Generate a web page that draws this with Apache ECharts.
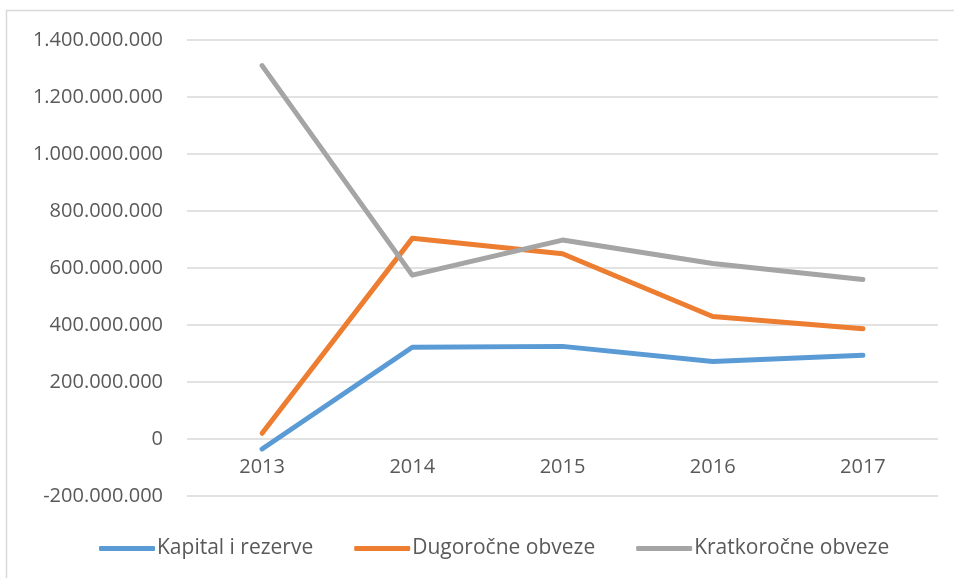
<!DOCTYPE html>
<html>
<head>
<meta charset="utf-8">
<title>Kapital i obveze 2013-2017</title>
<script src="https://cdn.jsdelivr.net/npm/echarts@6/dist/echarts.min.js"></script>
<style>
  html, body { margin: 0; padding: 0; background: #fff; }
  #box { width: 954px; height: 578px; }
</style>
</head>
<body>
<div id="box"></div>
<script>
// godine (kategorije)
var years = ['2013', '2014', '2015', '2016', '2017'];

// vrijednosti procitane sa slike
var kapital = [-35000000, 322000000, 325000000, 272000000, 294000000];
var dugorocne = [20000000, 704000000, 650000000, 430000000, 387000000];
var kratkorocne = [1310000000, 575000000, 698000000, 616000000, 560000000];

var seriesNames = ['Kapital i rezerve', 'Dugoročne obveze', 'Kratkoročne obveze'];
var colors = ['#5B9BD5', '#ED7D31', '#A5A5A5'];

function fmt(v) {
  var s = Math.abs(v).toString().replace(/\B(?=(\d{3})+(?!\d))/g, '.');
  return (v < 0 ? '-' : '') + s;
}

function makeLine(name, data, color) {
  return {
    name: name,
    type: 'line',
    data: data,
    symbol: 'none',
    lineStyle: { color: color, width: 5, cap: 'round', join: 'round' },
    itemStyle: { color: color }
  };
}

var myChart = echarts.init(document.getElementById('box'));
var option = {
  animation: false,
  color: colors,
  textStyle: { fontFamily: 'Open Sans', color: '#595959' },
  graphic: [
    { type: 'line', shape: { x1: 6.5, y1: 10, x2: 6.5, y2: 578 }, style: { stroke: '#D9D9D9', lineWidth: 1.5 } },
    { type: 'line', shape: { x1: 6, y1: 10.5, x2: 954, y2: 10.5 }, style: { stroke: '#D9D9D9', lineWidth: 1.5 } }
  ],
  grid: { left: 187, right: 16, top: 40, bottom: 82, containLabel: false },
  legend: {
    bottom: 14,
    left: 94,
    itemWidth: 56,
    itemHeight: 5,
    itemGap: 41,
    icon: 'roundRect',
    textStyle: { fontFamily: 'Open Sans', fontSize: 21, color: '#595959', padding: [0, 0, 0, -3] },
    data: seriesNames
  },
  xAxis: {
    type: 'category',
    data: years,
    boundaryGap: true,
    offset: -57,
    axisLine: { show: false, onZero: false },
    axisTick: { show: false },
    axisLabel: { fontSize: 20, color: '#595959', margin: 18 }
  },
  yAxis: {
    type: 'value',
    min: -200000000,
    max: 1400000000,
    interval: 200000000,
    axisLine: { show: false },
    axisTick: { show: false },
    splitLine: { lineStyle: { color: '#D9D9D9', width: 1.5 } },
    axisLabel: { fontSize: 20, color: '#595959', margin: 24, formatter: fmt }
  },
  series: [
    makeLine(seriesNames[0], kapital, colors[0]),
    makeLine(seriesNames[1], dugorocne, colors[1]),
    makeLine(seriesNames[2], kratkorocne, colors[2])
  ]
};
myChart.setOption(option);
</script>
</body>
</html>
